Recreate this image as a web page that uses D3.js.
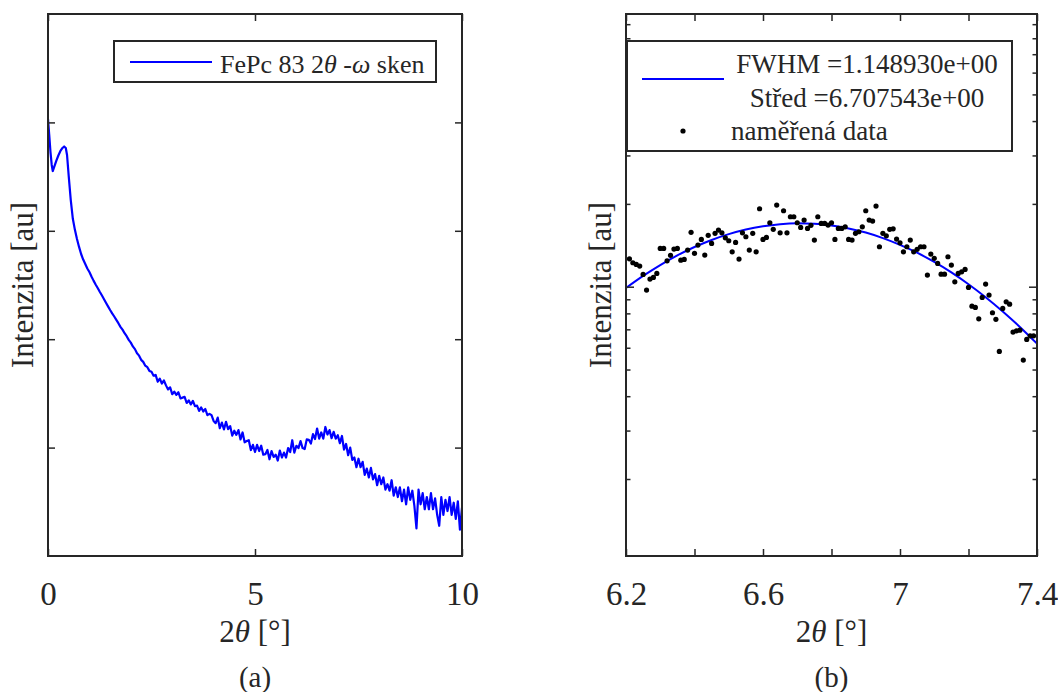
<!DOCTYPE html>
<html>
<head>
<meta charset="utf-8">
<script src="https://cdn.jsdelivr.net/npm/d3@7"></script>
<style>
  body { margin: 0; background: #fff; }
  svg text { font-family: "Liberation Serif", "DejaVu Serif", serif !important; fill: #262626; }
</style>
</head>
<body>
<svg id="chart" width="1058" height="692"></svg>
<script>
// (a) 2theta-omega scan, FePc 83
var scanAngle = [0, 0.03, 0.06, 0.09, 0.115, 0.15, 0.2, 0.25, 0.3, 0.35, 0.39, 0.43, 0.46, 0.5, 0.55, 0.6, 0.65, 0.7, 0.75, 0.8, 0.85, 0.9, 0.95,
  1, 1.05, 1.1, 1.15, 1.2, 1.25, 1.3, 1.35, 1.4, 1.45, 1.5, 1.55, 1.6, 1.65, 1.7, 1.75, 1.8, 1.85, 1.9, 1.95,
  2, 2.05, 2.1, 2.15, 2.2, 2.25, 2.3, 2.35, 2.4, 2.45, 2.5, 2.55, 2.6, 2.65, 2.7, 2.75, 2.8, 2.85, 2.9, 2.95,
  3, 3.05, 3.1, 3.15, 3.2, 3.25, 3.3, 3.35, 3.4, 3.45, 3.5, 3.55, 3.6, 3.65, 3.7, 3.75, 3.8, 3.85, 3.9, 3.95,
  4, 4.05, 4.1, 4.15, 4.2, 4.25, 4.3, 4.35, 4.4, 4.45, 4.5, 4.55, 4.6, 4.65, 4.7, 4.75, 4.8, 4.85, 4.9, 4.95,
  5, 5.05, 5.1, 5.15, 5.2, 5.25, 5.3, 5.35, 5.4, 5.45, 5.5, 5.55, 5.6, 5.65, 5.7, 5.75, 5.8, 5.85, 5.9, 5.95,
  6, 6.05, 6.1, 6.15, 6.2, 6.25, 6.3, 6.35, 6.4, 6.45, 6.5, 6.55, 6.6, 6.65, 6.7, 6.75, 6.8, 6.85, 6.9, 6.95,
  7, 7.05, 7.1, 7.15, 7.2, 7.25, 7.3, 7.35, 7.4, 7.45, 7.5, 7.55, 7.6, 7.65, 7.7, 7.75, 7.8, 7.85, 7.9, 7.95,
  8, 8.05, 8.1, 8.15, 8.2, 8.25, 8.3, 8.35, 8.4, 8.45, 8.5, 8.55, 8.6, 8.65, 8.7, 8.75, 8.8, 8.85, 8.9, 8.95,
  9, 9.05, 9.1, 9.15, 9.2, 9.25, 9.3, 9.35, 9.4, 9.45, 9.5, 9.55, 9.6, 9.65, 9.7, 9.75, 9.8, 9.85, 9.9, 9.95, 10];
var scanCounts = [107500, 76500, 53300, 40500, 35600, 38800, 44100, 49500, 54500, 58100, 60000, 58100, 50000, 32100, 19200, 12900, 10200, 8410, 7100, 6110, 5430, 4940, 4490,
  4170, 3790, 3470, 3200, 2970, 2740, 2540, 2350, 2170, 2010, 1860, 1730, 1620, 1510, 1405, 1300, 1225, 1135, 1065, 985,
  930, 858, 810, 742, 705, 645, 618, 570, 552, 510, 500, 461, 468, 405, 433, 390, 416, 375, 344, 360,
  311, 328, 306, 324, 284, 289, 294, 258, 273, 250, 270, 241, 244, 218, 235, 215, 227, 199, 205, 199,
  176, 168, 189, 151, 170, 147, 173, 148, 158, 129, 143, 131, 145, 119, 138, 112, 115, 117, 95, 106,
  91, 106, 93, 104, 86, 87, 95, 78, 93, 82, 86, 76, 94, 81, 90, 81, 99, 91, 117, 90,
  104, 99, 115, 99, 97, 119, 118, 109, 133, 120, 150, 121, 138, 121, 155, 132, 145, 122, 140, 121,
  130, 110, 128, 96, 108, 85, 100, 77, 81, 66, 79, 66, 74, 56, 64, 53, 65, 51, 57, 45,
  55, 46, 53, 41, 46, 40, 50, 36, 43, 35, 43, 32, 41, 30, 43, 33, 40, 29, 18, 41,
  30, 38, 27, 35, 27, 38, 27, 34, 24, 19, 35, 24, 33, 26, 35, 24, 31, 22, 32, 17.5, 28];

// (b) detail of the peak, measured points
var peakAngle = [6.21, 6.22, 6.23, 6.24, 6.25, 6.26, 6.27, 6.28, 6.29, 6.30,
  6.31, 6.32, 6.33, 6.34, 6.35, 6.36, 6.37, 6.38, 6.39, 6.40,
  6.41, 6.42, 6.43, 6.44, 6.45, 6.46, 6.47, 6.48, 6.49, 6.50,
  6.51, 6.52, 6.53, 6.54, 6.55, 6.56, 6.57, 6.58, 6.59, 6.60,
  6.61, 6.62, 6.63, 6.64, 6.65, 6.66, 6.67, 6.68, 6.69, 6.70,
  6.71, 6.72, 6.73, 6.74, 6.75, 6.76, 6.77, 6.78, 6.79, 6.80,
  6.81, 6.82, 6.83, 6.84, 6.85, 6.86, 6.87, 6.88, 6.89, 6.90,
  6.91, 6.92, 6.93, 6.94, 6.95, 6.96, 6.97, 6.98, 6.99, 7.00,
  7.01, 7.02, 7.03, 7.04, 7.05, 7.06, 7.07, 7.08, 7.09, 7.10,
  7.11, 7.12, 7.13, 7.14, 7.15, 7.16, 7.17, 7.18, 7.19, 7.20,
  7.21, 7.22, 7.23, 7.24, 7.25, 7.26, 7.27, 7.28, 7.29, 7.30,
  7.31, 7.32, 7.33, 7.34, 7.35, 7.36, 7.37, 7.38, 7.39];
var peakCounts = [126.3, 122.2, 120.5, 118.8, 110.8, 97.2, 106.6, 108.1, 111.8, 137.8,
  137.8, 124.2, 130.0, 137.0, 137.8, 124.9, 125.7, 135.9, 157.6, 132.2,
  141.7, 148.6, 130.3, 153.7, 143.7, 156.3, 160.7, 157.0, 150.6, 146.9,
  133.9, 144.9, 126.0, 157.0, 151.9, 135.9, 156.3, 133.9, 192.0, 148.6,
  151.1, 170.8, 161.6, 198.0, 157.0, 188.8, 157.0, 179.6, 179.6, 170.8,
  164.3, 174.7, 162.9, 167.1, 147.7, 179.6, 169.9, 169.9, 167.5, 170.8,
  148.6, 162.9, 162.9, 165.1, 148.6, 147.7, 156.3, 158.4, 165.1, 188.8,
  174.7, 173.2, 196.4, 139.7, 156.3, 153.1, 161.6, 162.3, 149.0, 144.4,
  133.9, 139.7, 147.7, 133.9, 136.7, 139.7, 139.7, 110.2, 131.4, 126.8,
  121.5, 111.1, 111.1, 128.5, 119.8, 104.2, 111.8, 113.3, 115.6, 99.4,
  85.0, 84.1, 76.4, 91.4, 102.2, 93.2, 80.4, 76.1, 58.2, 83.4,
  88.1, 86.4, 68.4, 69.1, 69.5, 54.1, 64.3, 66.3, 66.3];

// fitted gaussian
var fitAngle = [6.20, 6.25, 6.30, 6.35, 6.40, 6.45, 6.50, 6.55, 6.60, 6.65, 6.70, 6.75, 6.80,
  6.85, 6.90, 6.95, 7.00, 7.05, 7.10, 7.15, 7.20, 7.25, 7.30, 7.35, 7.40];
var fitCounts = [99.0, 109.5, 119.9, 130.0, 139.4, 147.9, 155.3, 161.4, 165.9, 168.8, 170.0, 169.4, 167.0,
  162.9, 157.3, 150.2, 142.0, 132.9, 123.0, 112.7, 102.1, 91.6, 81.3, 71.4, 62.1];

var xTicksA = [0, 5, 10];
var yTicksA = [1e2, 1e3, 1e4, 1e5];
var xTicksB = [6.2, 6.4, 6.6, 6.8, 7.0, 7.2, 7.4];
var xLabelsB = [6.2, 6.6, 7, 7.4];
var fitText = ["FWHM =1.148930e+00", "Střed =6.707543e+00"];
var dataText = "naměřená data";

var serif = "'Liberation Serif', 'DejaVu Serif', serif";
var svg = d3.select("#chart");
svg.append("rect").attr("width", 1058).attr("height", 692).attr("fill", "#fff");

var plotTop = 14, h = 542;
var axisColor = "#262626";

// ---------- panel (a) ----------
var ga = svg.append("g").attr("transform", "translate(48," + plotTop + ")");
var wa = 414;
var xa = d3.scaleLinear().domain([0, 10]).range([0, wa]);
var ya = d3.scaleLog().domain([10, 1e6]).range([h, 0]);

ga.append("clipPath").attr("id", "clipA").append("rect").attr("width", wa).attr("height", h);

var lineA = d3.line()
  .x(function (d, i) { return xa(scanAngle[i]); })
  .y(function (d) { return ya(d); });

ga.append("path")
  .datum(scanCounts)
  .attr("clip-path", "url(#clipA)")
  .attr("d", lineA)
  .attr("fill", "none")
  .attr("stroke", "#0000ff")
  .attr("stroke-width", 2.2)
  .attr("stroke-linejoin", "round");

// ---------- panel (b) ----------
var gb = svg.append("g").attr("transform", "translate(626," + plotTop + ")");
var wb = 411;
var xb = d3.scaleLinear().domain([6.2, 7.4]).range([0, wb]);
var yb = d3.scaleLog().domain([10.5, 980]).range([h, 0]);

gb.append("clipPath").attr("id", "clipB").append("rect").attr("width", wb).attr("height", h);

var lineB = d3.line()
  .x(function (d, i) { return xb(fitAngle[i]); })
  .y(function (d) { return yb(d); })
  .curve(d3.curveMonotoneX);

gb.append("path")
  .datum(fitCounts)
  .attr("clip-path", "url(#clipB)")
  .attr("d", lineB)
  .attr("fill", "none")
  .attr("stroke", "#0000ff")
  .attr("stroke-width", 2);

gb.selectAll("circle.pt")
  .data(peakCounts)
  .enter()
  .append("circle")
  .attr("class", "pt")
  .attr("cx", function (d, i) { return xb(peakAngle[i]); })
  .attr("cy", function (d) { return yb(d); })
  .attr("r", 2.6)
  .attr("fill", "#000");

// ---------- axes ----------
function styleAxis(sel) {
  sel.style("color", axisColor).attr("font-family", serif);
  sel.select(".domain").remove();
  sel.selectAll(".tick line").attr("stroke-width", 1.5);
}

function frame(g, w) {
  g.append("rect")
    .attr("width", w).attr("height", h)
    .attr("fill", "none")
    .attr("stroke", axisColor)
    .attr("stroke-width", 2);
}

function bottomAxis(g, x, w, ticks, fmt) {
  g.append("g")
    .attr("transform", "translate(0," + h + ")")
    .call(d3.axisBottom(x).tickValues(ticks).tickSize(-7).tickFormat(fmt))
    .call(styleAxis)
    .selectAll("text")
    .attr("y", 49).attr("dy", 0)
    .attr("font-size", 33);
  g.append("g")
    .call(d3.axisTop(x).tickValues(ticks).tickSize(-7).tickFormat(""))
    .call(styleAxis);
}

function sideAxes(g, y, w, ticks, size) {
  g.append("g")
    .call(d3.axisLeft(y).tickValues(ticks).tickSize(-size).tickFormat(""))
    .call(styleAxis);
  g.append("g")
    .attr("transform", "translate(" + w + ",0)")
    .call(d3.axisRight(y).tickValues(ticks).tickSize(-size).tickFormat(""))
    .call(styleAxis);
}

bottomAxis(ga, xa, wa, xTicksA, d3.format("d"));
sideAxes(ga, ya, wa, yTicksA, 7);
frame(ga, wa);

bottomAxis(gb, xb, wb, xTicksB, function (d) {
  return xLabelsB.indexOf(+d.toFixed(1)) >= 0 ? d3.format("")(+d.toFixed(1)) : "";
});
var yTicksB = yb.ticks();
var isMajor = function (d) { return Math.abs(Math.log10(d) - Math.round(Math.log10(d))) < 1e-9; };
sideAxes(gb, yb, wb, yTicksB.filter(function (d) { return !isMajor(d); }), 4.5);
sideAxes(gb, yb, wb, yTicksB.filter(isMajor), 8);
frame(gb, wb);

// ---------- labels ----------
function xLabel(g, w) {
  var t = g.append("text")
    .attr("x", w / 2).attr("y", h + 86)
    .attr("text-anchor", "middle")
    .attr("font-family", serif)
    .attr("font-size", 31);
  t.append("tspan").text("2");
  t.append("tspan").attr("font-style", "italic").text("θ");
  t.append("tspan").text(" [°]");
}
function yLabel(g) {
  g.append("text")
    .attr("transform", "translate(-15," + h / 2 + ")rotate(-90)")
    .attr("text-anchor", "middle")
    .attr("font-family", serif)
    .attr("font-size", 31)
    .text("Intenzita [au]");
}
function caption(g, w, s) {
  g.append("text")
    .attr("x", w / 2).attr("y", h + 131)
    .attr("text-anchor", "middle")
    .attr("font-family", serif)
    .attr("font-size", 29)
    .text(s);
}
xLabel(ga, wa); yLabel(ga); caption(ga, wa, "(a)");
xLabel(gb, wb); yLabel(gb); caption(gb, wb, "(b)");

// ---------- legends ----------
var la = ga.append("g").attr("transform", "translate(66,27)");
la.append("rect").attr("width", 322).attr("height", 41)
  .attr("fill", "#fff").attr("stroke", axisColor).attr("stroke-width", 2);
la.append("line").attr("x1", 16).attr("x2", 98).attr("y1", 21).attr("y2", 21)
  .attr("stroke", "#0000ff").attr("stroke-width", 2);
var lt = la.append("text").attr("x", 106).attr("y", 32)
  .attr("font-family", serif).attr("font-size", 26);
lt.append("tspan").text("FePc 83 2");
lt.append("tspan").attr("font-style", "italic").text("θ");
lt.append("tspan").text(" -");
lt.append("tspan").attr("font-style", "italic").text("ω");
lt.append("tspan").text(" sken");

var lb = gb.append("g").attr("transform", "translate(1,27)");
lb.append("rect").attr("width", 385).attr("height", 110)
  .attr("fill", "#fff").attr("stroke", axisColor).attr("stroke-width", 2);
lb.append("line").attr("x1", 15).attr("x2", 97).attr("y1", 38).attr("y2", 38)
  .attr("stroke", "#0000ff").attr("stroke-width", 2);
lb.selectAll("text.fit")
  .data(fitText)
  .enter()
  .append("text")
  .attr("class", "fit")
  .attr("x", 240)
  .attr("y", function (d, i) { return 32 + i * 34; })
  .attr("text-anchor", "middle")
  .attr("font-family", serif)
  .attr("font-size", 27)
  .text(function (d) { return d; });
lb.append("circle").attr("cx", 56).attr("cy", 90).attr("r", 2.6).attr("fill", "#000");
lb.append("text").attr("x", 104).attr("y", 99)
  .attr("font-family", serif).attr("font-size", 27).text(dataText);
</script>
</body>
</html>
